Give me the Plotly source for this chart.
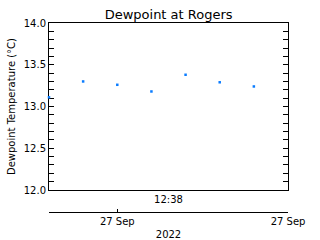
import plotly.graph_objects as go

times = ["2022-09-27 12:03", "2022-09-27 12:13", "2022-09-27 12:23", "2022-09-27 12:33",
         "2022-09-27 12:43", "2022-09-27 12:53", "2022-09-27 13:03"]
dewpoint = [13.11, 13.30, 13.26, 13.18, 13.38, 13.29, 13.24]

x_range = ["2022-09-27 12:03", "2022-09-27 13:13"]
top_tick_vals = ["2022-09-27 12:38"]
top_tick_text = ["12:38"]
date_tick_vals = ["2022-09-27 12:23", "2022-09-27 13:13"]
date_tick_text = ["27 Sep", "27 Sep"]

font = "DejaVu Sans"

fig = go.Figure()
fig.add_trace(go.Scatter(x=times, y=dewpoint, mode="markers",
                         marker=dict(symbol="square", size=2.5, color="#0a7cff", line=dict(width=0)),
                         cliponaxis=False, showlegend=False))
# invisible trace on second axis so it is drawn
fig.add_trace(go.Scatter(x=times, y=dewpoint, mode="markers", xaxis="x2",
                         marker=dict(size=0, opacity=0), showlegend=False, hoverinfo="skip"))

fig.update_layout(
    width=320, height=240,
    margin=dict(l=49, r=32, t=23, b=20, autoexpand=False),
    paper_bgcolor="white", plot_bgcolor="white",
    font=dict(family=font, size=10, color="black"),
    title=dict(text="Dewpoint at Rogers", x=0.527, xanchor="center", y=0.94, yanchor="middle",
               font=dict(size=13, family=font)),
    xaxis=dict(type="date", range=x_range, tickvals=top_tick_vals, ticktext=top_tick_text,
               showline=True, linecolor="black", linewidth=1, mirror=True, automargin=False,
               ticks="", showgrid=False, zeroline=False, tickfont=dict(size=10),
               domain=[0, 1]),
    xaxis2=dict(type="date", range=x_range, overlaying="x", anchor="free", position=0.0406,
                side="bottom", tickvals=date_tick_vals, ticktext=date_tick_text, automargin=False,
                showline=True, linecolor="black", linewidth=1, ticks="inside", ticklen=3,
                tickcolor="black", showgrid=False, zeroline=False, tickfont=dict(size=10),
                title=dict(text="2022", font=dict(size=10), standoff=5)),
    yaxis=dict(range=[12, 14], dtick=0.5, tickformat=".1f", domain=[0.1523, 1], automargin=False,
               showline=True, linecolor="black", linewidth=1, mirror="allticks",
               layer="below traces",
               ticks="inside", ticklen=5, tickcolor="black", showgrid=False, zeroline=False,
               minor=dict(dtick=0.1, ticks="inside", ticklen=3, tickcolor="black", showgrid=False),
               title=dict(text="Dewpoint Temperature (°C)", font=dict(size=10), standoff=6)),
)

fig.write_html("out.html")
